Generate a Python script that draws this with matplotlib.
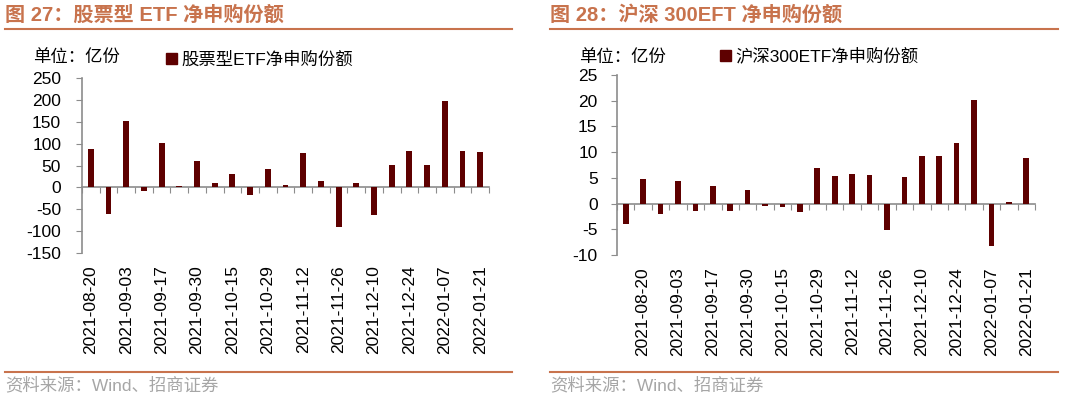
import matplotlib
matplotlib.use("Agg")
import matplotlib.pyplot as plt
from matplotlib.lines import Line2D
from matplotlib.patches import Patch

plt.rcParams["font.family"] = ["Liberation Sans", "Noto Sans CJK SC", "DejaVu Sans"]
plt.rcParams["axes.unicode_minus"] = False

# weekly dates
dates_left = ["2021-08-20", "2021-08-27", "2021-09-03", "2021-09-10", "2021-09-17", "2021-09-24",
              "2021-09-30", "2021-10-08", "2021-10-15", "2021-10-22", "2021-10-29", "2021-11-05",
              "2021-11-12", "2021-11-19", "2021-11-26", "2021-12-03", "2021-12-10", "2021-12-17",
              "2021-12-24", "2021-12-31", "2022-01-07", "2022-01-14", "2022-01-21"]
dates_right = ["2021-08-13"] + dates_left

# 股票型ETF净申购份额 (亿份)
stock_etf = [88, -60, 152, -8, 102, 4, 61, 9, 30, -17, 42, 6,
             78, 14, -90, 9, -62, 51, 84, 51, 198, 84, 82]
# 沪深300ETF净申购份额 (亿份)
hs300_etf = [-3.9, 4.8, -2.1, 4.4, -1.4, 3.4, -1.4, 2.6, -0.5, -0.7, -1.6, 6.9,
             5.3, 5.7, 5.5, -5.2, 5.1, 9.2, 9.3, 11.8, 20.1, -8.3, 0.3, 8.9]

titles = ["图 27：股票型 ETF 净申购份额", "图 28：沪深 300EFT 净申购份额"]
legend_names = ["股票型ETF净申购份额", "沪深300ETF净申购份额"]

bar_color = "#5E0000"
axis_color = "#8C8C8C"
title_color = "#C8734D"
source_color = "#A6A6A6"

fig = plt.figure(figsize=(10.8, 3.97), dpi=100)
W, H = 1080, 397


def px(x0, y_top, x1, y_bot):
    return [x0 / W, 1 - y_bot / H, (x1 - x0) / W, (y_bot - y_top) / H]


def draw(rect, dates, vals, ylim, yticks, label_start, legend_name, ypad, leg_x):
    ax = fig.add_axes(rect)
    n = len(vals)
    x = list(range(n))
    ax.bar(x, vals, width=0.33, color=bar_color, zorder=3)
    ax.set_xlim(-0.5, n - 0.5)
    ax.set_ylim(*ylim)
    ax.set_yticks(yticks)
    ax.tick_params(axis="y", direction="out", length=4, color=axis_color, labelsize=12.5, pad=ypad)
    for s in ["top", "right", "bottom"]:
        ax.spines[s].set_visible(False)
    ax.spines["left"].set_color(axis_color)
    ax.spines["left"].set_linewidth(1.2)
    # date labels under the plot
    idx = list(range(label_start, n, 2))
    ax.set_xticks(idx)
    ax.set_xticklabels([dates[i] for i in idx], rotation=90, fontsize=12.5)
    ax.tick_params(axis="x", length=0, pad=9)
    # zero line with ticks between categories
    zero = (0 - ylim[0]) / (ylim[1] - ylim[0])
    sec = ax.secondary_xaxis(zero)
    sec.set_xticks([i - 0.5 for i in range(n + 1)])
    sec.tick_params(axis="x", direction="out", length=4, color=axis_color, labelbottom=False)
    sec.spines["bottom"].set_color(axis_color)
    sec.spines["bottom"].set_linewidth(1.2)
    ax.legend([Patch(color=bar_color)], [legend_name], loc="lower left",
              bbox_to_anchor=(leg_x, 1.02), frameon=False, fontsize=12.5,
              handlelength=0.6, handleheight=0.6, handletextpad=0.3, borderaxespad=0)
    return ax


draw(px(82, 78, 489, 253), dates_left, stock_etf, (-150, 250), range(-150, 251, 50), 0,
     legend_names[0], 11, 0.19)
draw(px(617, 75, 1035, 255), dates_right, hs300_etf, (-10, 25), range(-10, 26, 5), 1,
     legend_names[1], 10, 0.23)

for x0, x1, title in [(5, 512, titles[0]), (550, 1058, titles[1])]:
    fig.text(x0 / W, 1 - 15 / H, title, fontsize=14.5, fontweight="bold", color=title_color,
             va="center", ha="left")
    fig.add_artist(Line2D([x0 / W, x1 / W], [1 - 29 / H] * 2, color=title_color, lw=1.5))
    fig.add_artist(Line2D([x0 / W, x1 / W], [1 - 372 / H] * 2, color=title_color, lw=1.5))
    fig.text(x0 / W, 1 - 385 / H, "资料来源：Wind、招商证券", fontsize=12.5, color=source_color,
             va="center", ha="left")

fig.text(33 / W, 1 - 57 / H, "单位：亿份", fontsize=12.5, va="center", ha="left")
fig.text(579 / W, 1 - 57 / H, "单位：亿份", fontsize=12.5, va="center", ha="left")

fig.savefig("out.png", dpi=100)
